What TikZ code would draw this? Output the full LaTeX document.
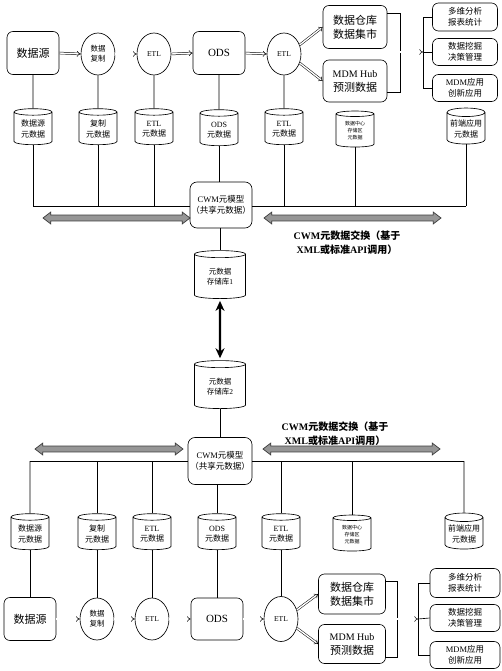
\documentclass[tikz,border=0pt]{standalone}
\usepackage{fontspec}
\setmainfont{Liberation Serif}
\newfontfamily\zhfont{Noto Sans CJK SC}
\newcommand{\zh}[1]{{\zhfont #1}}
\usepackage{tikz}
\usetikzlibrary{shapes.geometric, shapes.arrows, arrows.meta, positioning}
\definecolor{corSeta}{RGB}{150, 150, 150}
\definecolor{corBorda}{RGB}{60, 60, 60}

\begin{document}
\begin{tikzpicture}[
    x=1pt, y=-1pt, line width=0.65pt,
    box/.style={
        draw, rounded corners=6pt,
        minimum width=52pt, minimum height=43pt, inner sep=1pt,
        align=center, font=\fontsize{11}{14}\selectfont
    },
    oval/.style={
        draw, ellipse, minimum width=34pt, minimum height=42pt, inner sep=0pt,
        align=center, font=\fontsize{7.5}{10}\selectfont
    },
    store/.style={
        draw, cylinder, shape border rotate=90, aspect=0.25,
        minimum width=38pt, minimum height=36pt, inner sep=1pt,
        align=center, font=\fontsize{8}{10.5}\selectfont
    },
    app/.style={
        draw, rounded corners=6pt,
        minimum width=65pt, minimum height=28pt, inner sep=1pt,
        align=center, font=\fontsize{8.5}{11}\selectfont
    },
    cwm/.style={
        draw, rounded corners=7pt, fill=white,
        minimum width=62pt, minimum height=46pt, inner sep=1pt,
        align=center, font=\fontsize{8.5}{11.5}\selectfont
    },
    flow/.style={double, double distance=1.4pt, line width=0.5pt, -{Implies}},
    wide/.style={
        double arrow, draw=corBorda, fill=corSeta, line width=0.7pt,
        inner xsep=0pt, inner ysep=2.6pt,
        double arrow head extend=3pt, double arrow tip angle=75
    },
    lbl/.style={font=\bfseries\fontsize{10}{14}\selectfont, align=center}
]
\useasboundingbox (0,0) rectangle (502,671);

% ---- fluxo superior ----
\node[box] (src1) at (33,53) {\zh{数据源}};
\node[oval] (rep1) at (98,54) {\zh{数据}\\\zh{复制}};
\node[oval] (etlA1) at (154,54) {ETL};
\node[box] (ods1) at (219,53) {ODS};
\node[oval] (etlB1) at (284,54) {ETL};
\node[box, minimum width=64pt] (dw1) at (355,27) {\zh{数据仓库}\\\zh{数据集市}};
\node[box, minimum width=64pt, minimum height=42pt] (mdm1) at (355,81)
    {{\fontsize{10}{12}\selectfont MDM Hub}\\\zh{预测数据}};
\node[app] (olap1) at (465,17) {\zh{多维分析}\\\zh{报表统计}};
\node[app, minimum height=27pt] (mine1) at (465,52) {\zh{数据挖掘}\\\zh{决策管理}};
\node[app, minimum height=27pt] (inov1) at (465,88) {MDM\zh{应用}\\\zh{创新应用}};

\draw[flow] (src1.east) -- (rep1.west);
\draw[flow] (rep1.east) -- (etlA1.west);
\draw[flow] (etlA1.east) -- (ods1.west);
\draw[flow] (ods1.east) -- (etlB1.west);
\draw[flow] (etlB1.30) -- (dw1.west);
\draw[flow] (etlB1.-30) -- (mdm1.west);

\coordinate (bkT1) at (400,13);
\coordinate (bkB1) at (400,92);
\coordinate (bkM1) at (400,52);
\coordinate (frk1) at (423,52);
\draw (dw1.east |- bkT1) -- (bkT1) -- (bkB1) -- (mdm1.east |- bkB1);
\draw[flow] (bkM1) -- (frk1);
\draw (olap1.west) -- (olap1.west -| frk1) -- (inov1.west -| frk1) -- (inov1.west);
\draw (frk1) -- (mine1.west);

\node[store] (mSrc1) at (33,129) {\zh{数据源}\\\zh{元数据}};
\node[store] (mRep1) at (98,129) {\zh{复制}\\\zh{元数据}};
\node[store] (mEtlA1) at (154,129) {ETL\\\zh{元数据}};
\node[store] (mOds1) at (219,130) {ODS\\\zh{元数据}};
\node[store] (mEtlB1) at (284,129) {ETL\\\zh{元数据}};
\node[store, font=\fontsize{5}{7}\selectfont] (mDc1) at (355,131)
    {\zh{数据中心}\\\zh{存储区}\\\zh{元数据}};
\node[store] (mApp1) at (466,129) {\zh{前端应用}\\\zh{元数据}};

\draw (src1.south) -- (mSrc1.north);
\draw (rep1.south) -- (mRep1.north);
\draw (etlA1.south) -- (mEtlA1.north);
\draw (ods1.south) -- (mOds1.north);
\draw (etlB1.south) -- (mEtlB1.north);

\node[cwm] (cwm1) at (221,205) {CWM\zh{元模型}\\\zh{（共享元数据）}};
\coordinate (busL1) at (33,206);
\coordinate (busR1) at (466,206);
\draw (busL1) -- (busL1 -| cwm1.west);
\draw (cwm1.east |- busR1) -- (busR1);
\draw (mSrc1.south) -- (busL1);
\draw (mRep1.south) -- (mRep1.south |- busL1);
\draw (mEtlA1.south) -- (mEtlA1.south |- busL1);
\draw (mOds1.south) -- (mOds1.south |- cwm1.north);
\draw (mEtlB1.south) -- (mEtlB1.south |- busR1);
\draw (mDc1.south) -- (mDc1.south |- busR1);
\draw (mApp1.south) -- (busR1);

\node[wide, minimum height=147pt] (xL1) at (116.5,218) {};
\node[wide, minimum height=177pt] (xR1) at (352.5,218) {};
\node[lbl] (note1) at (347,243) {CWM\zh{元数据交换（基于}\\XML\zh{或标准}API\zh{调用）}};

% ---- repositorios ----
\node[store, minimum width=51pt, minimum height=48pt, font=\fontsize{7.5}{10}\selectfont]
    (rep1db) at (220,277) {\zh{元数据}\\\zh{存储库}1};
\node[store, minimum width=51pt, minimum height=48pt, font=\fontsize{7.5}{10}\selectfont]
    (rep2db) at (220,387) {\zh{元数据}\\\zh{存储库}2};
\draw (rep1db.north |- cwm1.south) -- (rep1db.north);
\draw[line width=2.2pt, {Stealth[length=10pt,width=9pt]}-{Stealth[length=10pt,width=9pt]},
    shorten <=2pt, shorten >=2pt] (rep1db.south) -- (rep2db.north);

\node[cwm, minimum width=64pt, minimum height=47pt] (cwm2) at (220,461)
    {CWM\zh{元模型}\\\zh{（共享元数据）}};
\draw (rep2db.south) -- (cwm2.north);

\node[wide, minimum height=148pt] (xL2) at (109,449) {};
\node[wide, minimum height=177pt] (xR2) at (351.5,449) {};
\node[lbl] (note2) at (335,434) {CWM\zh{元数据交换（基于}\\XML\zh{或标准}API\zh{调用）}};

% ---- fluxo inferior ----
\node[store] (mSrc2) at (30,534) {\zh{数据源}\\\zh{元数据}};
\node[store] (mRep2) at (97,534) {\zh{复制}\\\zh{元数据}};
\node[store] (mEtlA2) at (152,534) {ETL\\\zh{元数据}};
\node[store] (mOds2) at (217,534) {ODS\\\zh{元数据}};
\node[store] (mEtlB2) at (281,534) {ETL\\\zh{元数据}};
\node[store, font=\fontsize{5}{7}\selectfont] (mDc2) at (352,535)
    {\zh{数据中心}\\\zh{存储区}\\\zh{元数据}};
\node[store] (mApp2) at (464,534) {\zh{前端应用}\\\zh{元数据}};

\coordinate (busL2) at (30,461);
\coordinate (busR2) at (464,461);
\draw (busL2) -- (busL2 -| cwm2.west);
\draw (cwm2.east |- busR2) -- (busR2);
\draw (busL2) -- (mSrc2.north);
\draw (mRep2.north |- busL2) -- (mRep2.north);
\draw (mEtlA2.north |- busL2) -- (mEtlA2.north);
\draw (mOds2.north |- cwm2.south) -- (mOds2.north);
\draw (mEtlB2.north |- busR2) -- (mEtlB2.north);
\draw (mDc2.north |- busR2) -- (mDc2.north);
\draw (busR2) -- (mApp2.north);

\node[box] (src2) at (30,619) {\zh{数据源}};
\node[oval] (rep2) at (97,619) {\zh{数据}\\\zh{复制}};
\node[oval] (etlA2) at (152,619) {ETL};
\node[box, minimum height=42pt] (ods2) at (217,619) {ODS};
\node[oval, minimum height=45pt] (etlB2) at (281,619) {ETL};
\node[box, minimum width=67pt, minimum height=40pt] (dw2) at (352,594) {\zh{数据仓库}\\\zh{数据集市}};
\node[box, minimum width=67pt, minimum height=39pt] (mdm2) at (352,644)
    {{\fontsize{10}{12}\selectfont MDM Hub}\\\zh{预测数据}};
\node[app, minimum width=70pt, minimum height=29pt] (olap2) at (465,583) {\zh{多维分析}\\\zh{报表统计}};
\node[app, minimum width=70pt, minimum height=27pt] (mine2) at (465,618) {\zh{数据挖掘}\\\zh{决策管理}};
\node[app, minimum width=70pt, minimum height=27pt] (inov2) at (465,655) {MDM\zh{应用}\\\zh{创新应用}};

\draw (mSrc2.south) -- (src2.north);
\draw (mRep2.south) -- (rep2.north);
\draw (mEtlA2.south) -- (etlA2.north);
\draw (mOds2.south) -- (ods2.north);
\draw (mEtlB2.south) -- (etlB2.north);

\draw[flow] (src2.east) -- (rep2.west);
\draw[flow] (rep2.east) -- (etlA2.west);
\draw[flow] (etlA2.east) -- (ods2.west);
\draw[flow] (ods2.east) -- (etlB2.west);
\draw[flow] (etlB2.30) -- (dw2.west);
\draw[flow] (etlB2.-30) -- (mdm2.west);

\coordinate (bkT2) at (397,581);
\coordinate (bkB2) at (397,657);
\coordinate (bkM2) at (397,619);
\coordinate (frk2) at (418,619);
\draw (dw2.east |- bkT2) -- (bkT2) -- (bkB2) -- (mdm2.east |- bkB2);
\draw[flow] (bkM2) -- (frk2);
\draw (olap2.west) -- (olap2.west -| frk2) -- (inov2.west -| frk2) -- (inov2.west);
\draw (frk2) -- (mine2.west);

\end{tikzpicture}
\end{document}
